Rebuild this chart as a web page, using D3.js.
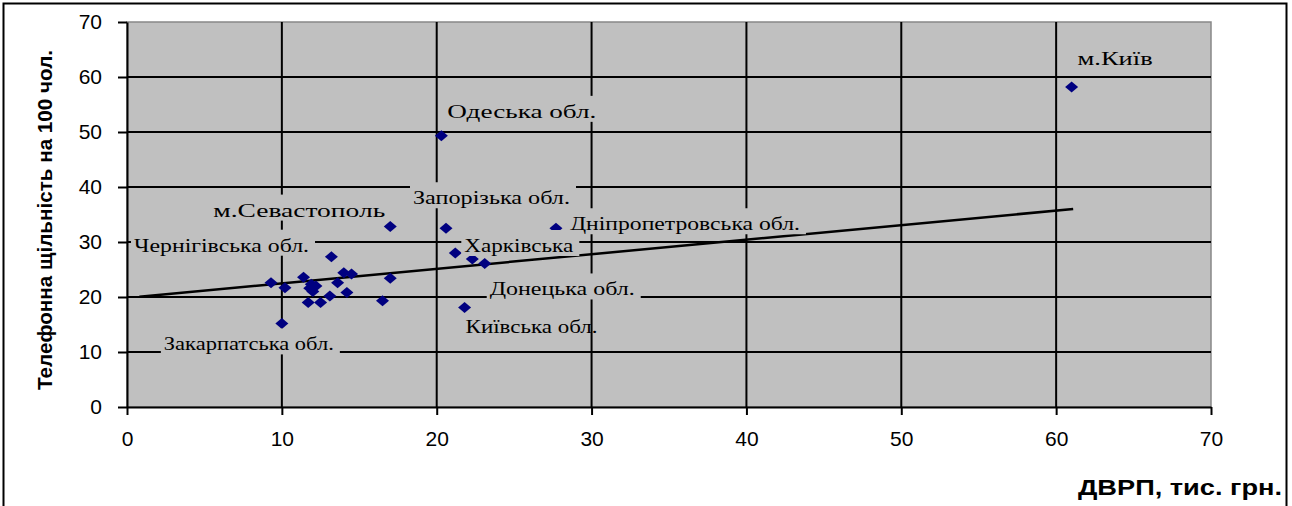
<!DOCTYPE html>
<html>
<head>
<meta charset="utf-8" />
<script src="https://d3js.org/d3.v7.min.js"></script>
<style>
  body { margin: 0; background: #fff; }
  .tick text { font-family: "Liberation Sans", Arial, sans-serif; font-size: 21px; fill: #000; }
  .lbl { font-family: "Liberation Serif", "Times New Roman", serif; font-size: 18px; fill: #000; }
  .title { font-family: "Liberation Sans", Arial, sans-serif; font-weight: bold; fill: #000; }
</style>
</head>
<body>
<div id="chart"></div>
<script>
// regions ("" = no label on the chart)
var regions = ["м.Київ", "Одеська обл.", "Запорізька обл.", "Дніпропетровська обл.", "Харківська",
  "Донецька обл.", "", "Київська обл.", "м.Севастополь", "Чернігівська обл.", "Закарпатська обл.",
  "", "", "", "", "", "", "", "", "", "", "", "", "", "", "", ""];
// ДВРП, тис. грн.
var grp = [61.0, 20.3, 20.6, 27.7, 21.2, 23.1, 22.3, 21.8, 17.0, 9.3, 10.0,
  10.2, 11.4, 11.8, 12.2, 12.0, 11.7, 12.5, 13.1, 13.6, 14.0, 14.5, 14.2, 16.5, 17.0, 13.2, 11.9];
// телефонна щільність на 100 чол.
var density = [58.2, 49.3, 32.5, 32.5, 28.0, 26.1, 26.9, 18.1, 32.8, 22.6, 15.2,
  21.7, 23.6, 21.6, 22.0, 21.0, 19.0, 19.0, 20.2, 22.6, 24.4, 24.2, 20.8, 19.3, 23.4, 27.3, 22.3];
// linear trend line end points
var trendX = [0.8, 61.1];
var trendY = [20.05, 36.0];
var xTicks = [0, 10, 20, 30, 40, 50, 60, 70];
var yTicks = [0, 10, 20, 30, 40, 50, 60, 70];

// label layout (offset from point, text width, with/without background box)
var labelLayout = {
  "м.Київ":               {dx: 6,    dy: -22, w: 75,  box: true},
  "Одеська обл.":         {dx: 6,    dy: -18, w: 149, box: true},
  "Запорізька обл.":      {dx: -33,  dy: -24, w: 157, box: true},
  "Дніпропетровська обл.":{dx: 14,   dy: 2,   w: 230, box: true},
  "Харківська":           {dx: 9,    dy: -1,  w: 109, box: true},
  "Донецька обл.":        {dx: 5,    dy: 32,  w: 145, box: true},
  "Київська обл.":        {dx: 1,    dy: 26,  w: 132, box: false},
  "м.Севастополь":        {dx: -177, dy: -10, w: 172, box: true},
  "Чернігівська обл.":    {dx: -137, dy: -31, w: 175, box: true},
  "Закарпатська обл.":    {dx: -118, dy: 27,  w: 170, box: true}
};

var W = 1292, H = 506;
var plot = {left: 127, right: 1211, top: 22, bottom: 407};

var svg = d3.select("#chart").append("svg")
  .attr("width", W).attr("height", H);

// outer frame
svg.append("path")
  .attr("d", "M3.5," + H + "V3.5H1286.5V" + H)
  .attr("fill", "none").attr("stroke", "#000").attr("stroke-width", 2);

var x = d3.scaleLinear().domain([0, 70]).range([plot.left, plot.right]);
var y = d3.scaleLinear().domain([0, 70]).range([plot.bottom, plot.top]);

// plot area
svg.append("rect")
  .attr("x", x(0)).attr("y", y(70))
  .attr("width", x(70) - x(0)).attr("height", y(0) - y(70))
  .attr("fill", "#c0c0c0").attr("stroke", "#888").attr("stroke-width", 1.5);

// gridlines
svg.append("g").selectAll("line").data(yTicks.filter(function(d){ return d > 0 && d < 70; }))
  .enter().append("line")
  .attr("x1", x(0)).attr("x2", x(70))
  .attr("y1", function(d){ return y(d); }).attr("y2", function(d){ return y(d); })
  .attr("stroke", "#000").attr("stroke-width", 2);
svg.append("g").selectAll("line").data(xTicks.filter(function(d){ return d > 0 && d < 70; }))
  .enter().append("line")
  .attr("y1", y(0)).attr("y2", y(70))
  .attr("x1", function(d){ return x(d); }).attr("x2", function(d){ return x(d); })
  .attr("stroke", "#000").attr("stroke-width", 2);

// axes
var gx = svg.append("g")
  .attr("transform", "translate(0," + y(0) + ")")
  .call(d3.axisBottom(x).tickValues(xTicks).tickSize(8).tickPadding(16).tickSizeOuter(0));
var gy = svg.append("g")
  .attr("transform", "translate(" + x(0) + ",0)")
  .call(d3.axisLeft(y).tickValues(yTicks).tickSize(9).tickPadding(16).tickSizeOuter(0));
[gx, gy].forEach(function(g){
  g.select(".domain").attr("stroke", "#000").attr("stroke-width", 2);
  g.selectAll(".tick line").attr("stroke", "#000").attr("stroke-width", 2);
});

// trend line
svg.append("line")
  .attr("x1", x(trendX[0])).attr("y1", y(trendY[0]))
  .attr("x2", x(trendX[1])).attr("y2", y(trendY[1]))
  .attr("stroke", "#000").attr("stroke-width", 2.5);

// points (diamonds)
var diamond = "M0,-5.5L6.5,0L0,5.5L-6.5,0Z";
svg.append("g").selectAll("path").data(grp)
  .enter().append("path")
  .attr("d", diamond)
  .attr("transform", function(d, i){ return "translate(" + x(d) + "," + y(density[i]) + ")"; })
  .attr("fill", "#000080");

// data labels
var labels = svg.append("g");
regions.forEach(function(name, i){
  if (!name) return;
  var L = labelLayout[name];
  var tx = x(grp[i]) + L.dx, ty = y(density[i]) + L.dy;
  if (L.box) {
    labels.append("rect")
      .attr("x", tx - 3).attr("y", ty - 22)
      .attr("width", L.w + 9).attr("height", 26)
      .attr("fill", "#c0c0c0");
  }
  labels.append("text")
    .attr("class", "lbl")
    .attr("x", tx).attr("y", ty)
    .attr("textLength", L.w).attr("lengthAdjust", "spacingAndGlyphs")
    .text(name);
});

// axis titles
svg.append("text")
  .attr("class", "title")
  .attr("transform", "translate(52,220) rotate(-90)")
  .attr("text-anchor", "middle")
  .style("font-size", "20px")
  .attr("textLength", 340).attr("lengthAdjust", "spacingAndGlyphs")
  .text("Телефонна щільність на 100 чол.");

svg.append("text")
  .attr("class", "title")
  .attr("x", 1282).attr("y", 495)
  .attr("text-anchor", "end")
  .style("font-size", "22px")
  .attr("textLength", 204).attr("lengthAdjust", "spacingAndGlyphs")
  .text("ДВРП, тис. грн.");
</script>
</body>
</html>
